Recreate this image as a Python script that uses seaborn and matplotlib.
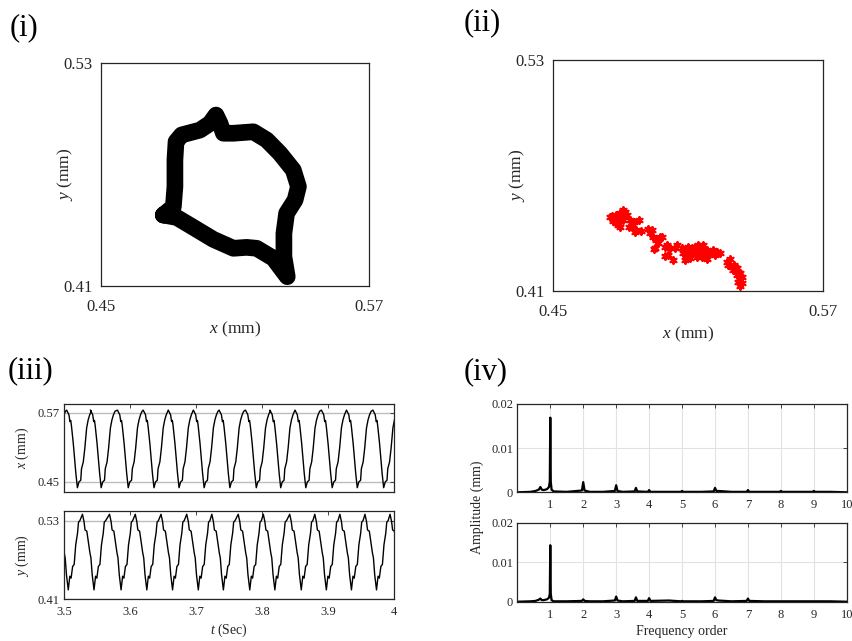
import numpy as np
import pandas as pd
import seaborn as sns
import matplotlib.pyplot as plt

# (i) orbit centre line, x/y in mm
loop_x = [0.4779, 0.4824, 0.4831, 0.4831, 0.4836, 0.4861, 0.4943, 0.4988, 0.5015, 0.5033,
          0.5048, 0.5093, 0.5182, 0.5242, 0.5301, 0.5361, 0.5384, 0.5369, 0.5331, 0.5319,
          0.5319, 0.5334, 0.5272, 0.5197, 0.5152, 0.5093, 0.5003, 0.4913, 0.4839, 0.4779]
loop_y = [0.4482, 0.4527, 0.4635, 0.4778, 0.4877, 0.4913, 0.4939, 0.4975, 0.5020, 0.4975,
          0.4922, 0.4922, 0.4930, 0.4886, 0.4814, 0.4724, 0.4635, 0.4563, 0.4491, 0.4383,
          0.4258, 0.4150, 0.4249, 0.4303, 0.4308, 0.4303, 0.4351, 0.4416, 0.4469, 0.4482]

# (ii) Poincare points
pc_x = [0.4752, 0.4764, 0.4775, 0.4782, 0.4790, 0.4797, 0.4804, 0.4812, 0.4819, 0.4790,
        0.4782, 0.4797, 0.4767, 0.4809, 0.4827,
        0.4842, 0.4849, 0.4859, 0.4871, 0.4883, 0.4889, 0.4864, 0.4839, 0.4923, 0.4931,
        0.4938, 0.4946, 0.4960, 0.4975, 0.4983, 0.4968, 0.4953, 0.4949, 0.4998, 0.5005,
        0.5012, 0.5020, 0.5042, 0.5050, 0.5035, 0.4998,
        0.5072, 0.5079, 0.5087, 0.5094, 0.5102, 0.5109, 0.5116, 0.5124, 0.5131, 0.5139,
        0.5146, 0.5153, 0.5161, 0.5168, 0.5176, 0.5183, 0.5191, 0.5198, 0.5205, 0.5213,
        0.5220, 0.5228, 0.5243, 0.5087, 0.5109, 0.5139, 0.5183, 0.5161,
        0.5272, 0.5280, 0.5287, 0.5295, 0.5302, 0.5309, 0.5317, 0.5324, 0.5332, 0.5339,
        0.5332, 0.5339, 0.5332, 0.5324, 0.5317, 0.5305]
pc_y = [0.4487, 0.4490, 0.4478, 0.4495, 0.4469, 0.4504, 0.4487, 0.4521, 0.4513, 0.4443,
        0.4452, 0.4435, 0.4466, 0.4469, 0.4495,
        0.4469, 0.4435, 0.4456, 0.4417, 0.4469, 0.4414, 0.4409, 0.4435, 0.4421, 0.4400,
        0.4417, 0.4383, 0.4365, 0.4379, 0.4383, 0.4348, 0.4322, 0.4317, 0.4327, 0.4339,
        0.4287, 0.4322, 0.4322, 0.4339, 0.4261, 0.4282,
        0.4322, 0.4296, 0.4313, 0.4279, 0.4331, 0.4305, 0.4322, 0.4296, 0.4331, 0.4313,
        0.4339, 0.4287, 0.4322, 0.4339, 0.4305, 0.4313, 0.4296, 0.4305, 0.4296, 0.4313,
        0.4287, 0.4305, 0.4300, 0.4261, 0.4270, 0.4279, 0.4265, 0.4279,
        0.4253, 0.4235, 0.4265, 0.4227, 0.4209, 0.4227, 0.4218, 0.4201, 0.4192, 0.4175,
        0.4157, 0.4140, 0.4126, 0.4149, 0.4183, 0.4235]

# (iii) one cycle of each signal (phase from the peak) and the peak times
period = 0.0389
phase_x = [0.00, 0.09, 0.13, 0.16, 0.19, 0.26, 0.32, 0.36, 0.42, 0.48, 0.55, 0.58, 0.65, 0.71, 0.78, 0.84, 0.90, 0.96]
cycle_x = [0.575, 0.567, 0.555, 0.557, 0.547, 0.517, 0.485, 0.465, 0.440, 0.450, 0.453, 0.473, 0.485, 0.509, 0.544, 0.558, 0.567, 0.573]
phase_y = [0.00, 0.06, 0.10, 0.17, 0.23, 0.29, 0.33, 0.38, 0.45, 0.51, 0.56, 0.62, 0.68, 0.74, 0.81, 0.85, 0.90]
cycle_y = [0.540, 0.529, 0.516, 0.514, 0.498, 0.481, 0.473, 0.447, 0.424, 0.445, 0.442, 0.460, 0.463, 0.493, 0.511, 0.528, 0.530]
peaks_x = [3.465, 3.504, 3.540, 3.581, 3.620, 3.658, 3.696, 3.735, 3.775, 3.812, 3.850, 3.890, 3.928, 3.968]
peaks_y = [3.489, 3.528, 3.569, 3.608, 3.647, 3.686, 3.724, 3.764, 3.802, 3.842, 3.880, 3.918, 3.956, 3.994]

# (iv) amplitude spectra
freq_order = [0.00, 0.40, 0.55, 0.65, 0.70, 0.74, 0.80, 0.90, 0.96, 0.985,
              1.00, 1.015, 1.04, 1.10, 1.50, 1.96, 2.00, 2.04, 2.20, 2.60,
              2.96, 3.00, 3.04, 3.20, 3.56, 3.60, 3.64, 3.96, 4.00, 4.04,
              4.60, 4.96, 5.00, 5.04, 5.60, 5.96, 6.00, 6.04, 6.10, 6.50,
              6.96, 7.00, 7.04, 7.50, 7.96, 8.00, 8.04, 8.96, 9.00, 9.04,
              9.50, 10.0]
amp_x = [0, 0.0001, 0.0003, 0.0006, 0.0012, 0.0006, 0.0005, 0.0007, 0.0012, 0.0025,
         0.0169, 0.0024, 0.0006, 0.0002, 0.0001, 0.0004, 0.0023, 0.0004, 0.0001, 0.0001,
         0.0003, 0.0016, 0.0003, 0.0001, 0.0002, 0.0010, 0.0002, 0.0001, 0.0005, 0.0001,
         0.0001, 0.0001, 0.0003, 0.0001, 0.0001, 0.0002, 0.0010, 0.0003, 0.0003, 0.0001,
         0.0001, 0.0005, 0.0001, 0.0001, 0.0001, 0.0003, 0.0001, 0.0001, 0.0003, 0.0001,
         0.0001, 0.0]
amp_y = [0, 0.0001, 0.0002, 0.0005, 0.0008, 0.0004, 0.0004, 0.0006, 0.0010, 0.0020,
         0.0143, 0.0020, 0.0004, 0.0001, 0.0001, 0.0002, 0.0006, 0.0002, 0.0001, 0.0001,
         0.0003, 0.0013, 0.0003, 0.0001, 0.0002, 0.0011, 0.0002, 0.0002, 0.0009, 0.0002,
         0.0003, 0.0001, 0.0002, 0.0001, 0.0001, 0.0002, 0.0011, 0.0004, 0.0003, 0.0001,
         0.0002, 0.0008, 0.0002, 0.0001, 0.0001, 0.0001, 0.0001, 0.0001, 0.0001, 0.0001,
         0.0001, 0.0]

# Style
sns.set_style('white')
plt.rcParams['font.family'] = ['Liberation Serif', 'DejaVu Serif']
plt.rcParams['mathtext.fontset'] = 'custom'
plt.rcParams['mathtext.it'] = 'Liberation Serif:italic'
plt.rcParams['mathtext.rm'] = 'Liberation Serif'
plt.rcParams['axes.edgecolor'] = '#262626'
plt.rcParams['axes.linewidth'] = 0.9
txt = '#262626'

fig = plt.figure(figsize=(8.53, 6.41), dpi=100)

# (i)
ax1 = fig.add_axes([0.1184, 0.5538, 0.3142, 0.3479])
sns.lineplot(x=loop_x, y=loop_y, sort=False, estimator=None, color='k', lw=12,
             solid_joinstyle='round', solid_capstyle='round', ax=ax1)

# (ii)
ax2 = fig.add_axes([0.6483, 0.5460, 0.3165, 0.3604])
sns.scatterplot(x=pc_x, y=pc_y, color='red', marker=(6, 2, 0), s=22,
                linewidth=1.6, edgecolor='red', ax=ax2)

for ax in (ax1, ax2):
    ax.set_xlim(0.45, 0.57)
    ax.set_ylim(0.41, 0.53)
    ax.set_xticks([0.45, 0.57])
    ax.set_yticks([0.41, 0.53])
    ax.set_xticklabels(['0.45', '0.57'])
    ax.set_yticklabels(['0.41', '0.53'])
    ax.tick_params(length=0, labelsize=12, labelcolor=txt, pad=6)
    ax.tick_params(axis='x', pad=9)
    ax.set_xlabel('$x$ (mm)', fontsize=12.5, color=txt, labelpad=4)
    ax.set_ylabel('$y$ (mm)', fontsize=12.5, color=txt, labelpad=-8)

# (iii) time histories
def build(peaks, phase, cycle):
    t, v = [], []
    for p in peaks:
        t += [p + ph * period for ph in phase]
        v += cycle
    return pd.DataFrame({'t': t, 'v': v})

sig_x = build(peaks_x, phase_x, cycle_x)
sig_y = build(peaks_y, phase_y, cycle_y)

ax3a = fig.add_axes([0.0750, 0.2325, 0.3869, 0.1373])
ax3b = fig.add_axes([0.0750, 0.0655, 0.3869, 0.1373])
sns.lineplot(data=sig_x, x='t', y='v', sort=False, estimator=None, color='k', lw=1.0, ax=ax3a)
sns.lineplot(data=sig_y, x='t', y='v', sort=False, estimator=None, color='k', lw=1.0, ax=ax3b)
ax3a.set_ylim(0.4326, 0.5857)
ax3a.set_yticks([0.45, 0.57])
ax3b.set_ylim(0.41, 0.545)
ax3b.set_yticks([0.41, 0.53])
for ax in (ax3a, ax3b):
    ax.set_xlim(3.5, 4.0)
    ax.set_xticks([3.5, 3.6, 3.7, 3.8, 3.9, 4.0])
    ax.yaxis.grid(True, color='#bdbdbd', lw=1.0)
    ax.tick_params(direction='in', top=True, right=True, length=3, width=0.6,
                   labelsize=9, labelcolor=txt, pad=3)
    ax.tick_params(axis='x', pad=5)
    ax.set_yticklabels([f'{v:.2f}' for v in ax.get_yticks()])
ax3a.set_xticklabels([])
ax3a.set_xlabel('')
ax3b.set_xticklabels(['3.5', '3.6', '3.7', '3.8', '3.9', '4'])
ax3a.set_ylabel('$x$ (mm)', fontsize=10, color=txt, labelpad=5)
ax3b.set_ylabel('$y$ (mm)', fontsize=10, color=txt, labelpad=5)
ax3b.set_xlabel('$t$ (Sec)', fontsize=10, color=txt, labelpad=3)

# (iv) spectra
ax4a = fig.add_axes([0.6065, 0.2320, 0.3862, 0.1378])
ax4b = fig.add_axes([0.6065, 0.0613, 0.3862, 0.1232])
spec = pd.DataFrame({'f': freq_order, 'ax': amp_x, 'ay': amp_y})
sns.lineplot(data=spec, x='f', y='ax', estimator=None, color='k', lw=1.6, ax=ax4a)
sns.lineplot(data=spec, x='f', y='ay', estimator=None, color='k', lw=1.6, ax=ax4b)
for ax in (ax4a, ax4b):
    ax.set_xlim(0, 10)
    ax.set_ylim(0, 0.02)
    ax.set_xticks(range(1, 11))
    ax.set_yticks([0, 0.01, 0.02])
    ax.set_yticklabels(['0', '0.01', '0.02'])
    ax.grid(True, color='#e2e2e2', lw=0.8)
    ax.tick_params(direction='in', top=True, right=True, length=3, width=0.6,
                   labelsize=9, labelcolor=txt, pad=3)
    ax.tick_params(axis='x', pad=5)
    ax.set_ylabel('')
    ax.set_xlabel('')
ax4b.set_xlabel('Frequency order', fontsize=10, color=txt, labelpad=3)
fig.text(0.559, 0.209, 'Amplitude (mm)', rotation=90, ha='center', va='center',
         fontsize=10, color=txt)

# panel labels
for x, y, s in [(0.0117, 0.956, '(i)'), (0.543, 0.964, '(ii)'),
                (0.0094, 0.421, '(iii)'), (0.543, 0.420, '(iv)')]:
    fig.text(x, y, s, fontsize=22, ha='left', va='center', color='k')

fig.savefig('out.png', dpi=100)
